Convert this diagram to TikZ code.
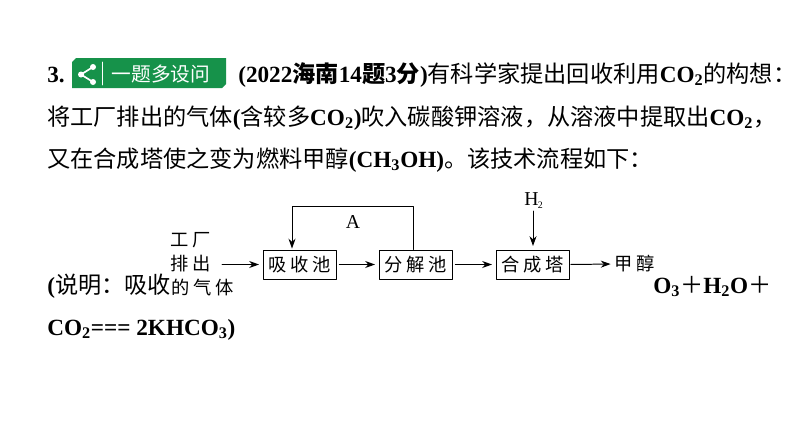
\documentclass[tikz,border=0pt]{standalone}
\usepackage{fontspec}
\setmainfont{Liberation Serif}
\newfontfamily\cjk{Noto Sans CJK SC}
\newfontfamily\cjkflow[LetterSpace=20]{Noto Sans CJK SC}
\newcommand{\zh}[1]{{\cjk\mdseries #1}}
\newcommand{\zhb}[1]{{\cjk\bfseries #1}}
\newcommand{\fwcomma}{\symbol{"FF0C}}
\newcommand{\fwcolon}{\symbol{"FF1A}}
\newcommand{\fwplus}{\symbol{"FF0B}}
\usetikzlibrary{arrows.meta}
\definecolor{badgegreen}{HTML}{16924A}
\tikzset{
	textline/.style={anchor=base west,inner sep=0pt,font=\fontsize{16.5}{16.5}\selectfont\bfseries},
	poolbox/.style={draw,line width=0.7pt,minimum width=1.825cm,minimum height=0.725cm,inner sep=0pt,font=\fontsize{13}{13}\cjkflow},
	flowtext/.style={inner sep=0pt,font=\fontsize{13}{13}\cjkflow},
	flow/.style={line width=0.7pt,-{Stealth[length=7pt,width=5pt]},shorten >=2.5pt},
}
\begin{document}
\begin{tikzpicture}[line cap=round,line join=round,x=0.025cm,y=-0.025cm]
	\useasboundingbox (0,0) rectangle (794,447);
	% text lines
	\node[textline] (num) at (47,82) {3.};
	\node[textline] (lineone) at (238,82) {(2022\zhb{海南}14\zhb{题}3\zhb{分})\zh{有科学家提出回收利用}CO\textsubscript{2}\zh{的构想\fwcolon}};
	\node[textline] (linetwo) at (47,125) {\zh{将工厂排出的气体}(\zh{含较多}CO\textsubscript{2})\zh{吹入碳酸钾溶液\fwcomma 从溶液中提取出}CO\textsubscript{2}\zh{\fwcomma}};
	\node[textline] (linethree) at (47,167) {\zh{又在合成塔使之变为燃料甲醇}(CH\textsubscript{3}OH)\zh{。该技术流程如下\fwcolon}};
	\node[textline] (linefour) at (47,293) {(\zh{说明\fwcolon 吸收}};
	\node[textline] (linefourb) at (653,293) {O\textsubscript{3}\zh{\fwplus}H\textsubscript{2}O\zh{\fwplus}};
	\node[textline] (linefive) at (47,335) {CO\textsubscript{2}=== 2KHCO\textsubscript{3})};
	% badge
	\fill[badgegreen] (72,62) -- (76,58) -- (226,58) -- (226,84) -- (222,88) -- (72,88) -- cycle;
	\draw[white,line width=1.2pt] (93,67) -- (81,74.5) -- (93,82);
	\fill[white] (93,67) circle (3) (81,74.5) circle (3) (93,82) circle (3);
	\draw[white,line width=0.6pt] (102,62) -- (102,85);
	\node[inner sep=0pt,text=white,font=\fontsize{14}{14}\cjk] (badge) at (161,74) {一题多设问};
	% flow
	\node[poolbox] (xishou) at (299.5,264.5) {吸收池};
	\node[poolbox] (fenjie) at (415.5,264.5) {分解池};
	\node[poolbox] (hecheng) at (532.5,264.5) {合成塔};
	\node[flowtext] (gasa) at (191,240) {工厂};
	\node[flowtext] (gasb) at (191,264) {排出};
	\node[flowtext] (gasc) at (203,288) {的气体};
	\node[flowtext] (jiachun) at (634.5,264) {甲醇};
	\node[inner sep=0pt,font=\fontsize{14}{14}\selectfont] (alabel) at (353,222) {A};
	\node[inner sep=0pt,font=\fontsize{14}{14}\selectfont] (hydrogen) at (534,201) {H\textsubscript{\kern-0.5pt\fontsize{7}{7}\selectfont 2}};
	\coordinate (gasout) at (222,264.5);
	\coordinate (loopl) at (292,206);
	\coordinate (loopr) at (413,206);
	\coordinate (hin) at (533,211);
	\draw[flow] (gasout) -- (xishou.west);
	\draw[flow,shorten <=2pt] (xishou) -- (fenjie);
	\draw[flow,shorten <=2pt] (fenjie) -- (hecheng);
	\draw[flow,shorten <=1pt] (hecheng.east) -- (jiachun.west);
	\draw[flow] (hin) -- (hin |- hecheng.north);
	\draw[flow,shorten >=0.7pt] (loopr |- fenjie.north) -- (loopr) -- (loopl) -- (loopl |- xishou.north);
\end{tikzpicture}
\end{document}
